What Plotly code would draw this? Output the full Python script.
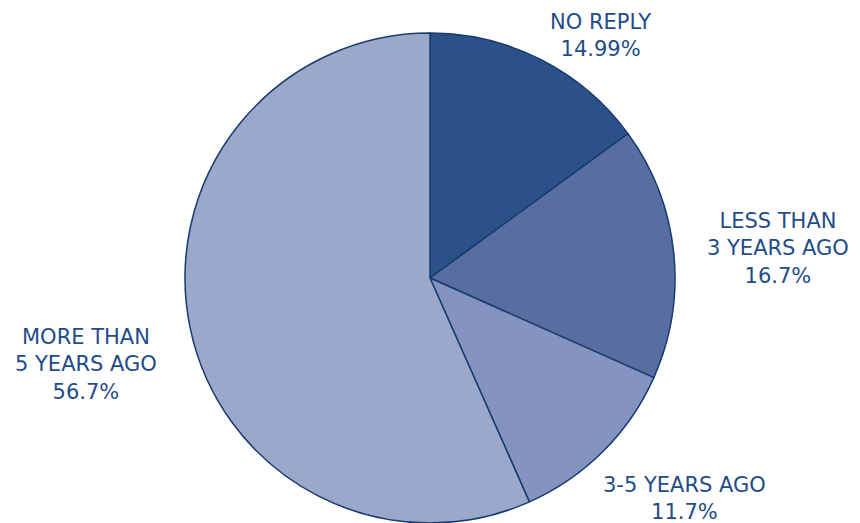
import plotly.graph_objects as go

labels = ["NO REPLY", "LESS THAN 3 YEARS AGO", "3-5 YEARS AGO", "MORE THAN 5 YEARS AGO"]
values = [14.99, 16.7, 11.7, 56.7]
label_texts = ["NO REPLY<br>14.99%", "LESS THAN<br>3 YEARS AGO<br>16.7%", "3-5 YEARS AGO<br>11.7%", "MORE THAN<br>5 YEARS AGO<br>56.7%"]
colors = ["#2C5189", "#586EA0", "#8594BE", "#9BA8CA"]

W, H = 860, 523
L, R, T, B = 185, 185, 33, 0
pw, ph = W - L - R, H - T - B

# label centres in pixels (layout only)
label_pos = [(600, 36), (778, 249), (684, 498), (86, 364)]

fig = go.Figure(go.Pie(
    labels=labels, values=values, sort=False, direction="clockwise", rotation=0,
    marker=dict(colors=colors, line=dict(color="#163C72", width=1.5)),
    textinfo="none", hoverinfo="label+percent", showlegend=False,
))

for txt, (px, py) in zip(label_texts, label_pos):
    fig.add_annotation(
        x=(px - L) / pw, y=(H - B - py) / ph, xref="paper", yref="paper",
        text=txt, showarrow=False, xanchor="center", yanchor="middle", align="center",
        font=dict(family="DejaVu Sans", size=21, color="#1F4C8A"),
    )

fig.update_layout(
    width=W, height=H, margin=dict(l=L, r=R, t=T, b=B),
    paper_bgcolor="white", plot_bgcolor="white",
)
fig.write_html("out.html")
